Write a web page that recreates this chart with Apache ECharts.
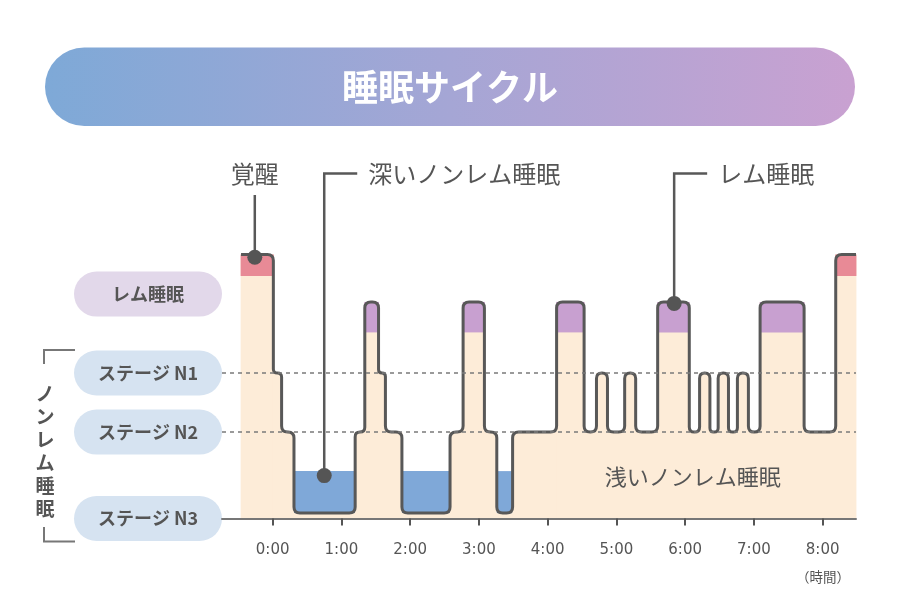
<!DOCTYPE html>
<html>
<head>
<meta charset="utf-8">
<script src="https://cdn.jsdelivr.net/npm/echarts@6/dist/echarts.min.js"></script>
<style>
html,body{margin:0;padding:0;background:#ffffff;}
#chart{width:900px;height:600px;}
</style>
</head>
<body>
<div id="chart"></div>
<script>
// ---------- data ----------
const xTickValues = [0, 1, 2, 3, 4, 5, 6, 7, 8];
const xTickLabels = ['0:00', '1:00', '2:00', '3:00', '4:00', '5:00', '6:00', '7:00', '8:00'];

// stages and their value on the vertical scale
const stageKeys   = ['W', 'REM', 'N1', 'N2', 'N3'];
const stageValues = [88, 72.2, 48.5, 28.8, 1.8];

// y-axis labels (pills)
const yLabelValues = [74.8, 48.5, 28.8, 0];
const yLabelTexts  = ['レム睡眠', 'ステージ N1', 'ステージ N2', 'ステージ N3'];
const yLabelKinds  = ['rem', 'nrem', 'nrem', 'nrem'];

// hypnogram: stage of each segment and the hour at which it ends
const recordStart = -0.46;
const segStage = ['W','N1','N2','N3','N2','REM','N1','N2','N3','N2','REM','N2','N3','N2','REM','N2','N1','N2','N1','N2','REM','N2','N1','N2','N1','N2','N1','N2','REM','N2','W'];
const segEnd   = [0.01,0.13,0.31,1.20,1.34,1.54,1.64,1.88,2.58,2.77,3.08,3.26,3.49,4.13,4.53,4.71,4.87,5.12,5.28,5.60,6.06,6.21,6.36,6.48,6.63,6.76,6.92,7.09,7.73,8.19,8.485];

// callouts
const calloutTime  = [-0.26, 0.75, 5.84];
const calloutValue = [87.1, 14.3, 71.7];
const calloutText  = ['覚醒', '深いノンレム睡眠', 'レム睡眠'];

// region label
const regionText  = ['浅いノンレム睡眠'];
const regionTime  = [6.11];
const regionValue = [13.8];

const xMin = -0.737, xMax = 8.485;

// ---------- styles ----------
const FONT = '"Noto Sans CJK JP", "Noto Sans", sans-serif';
const C_TEXT = '#555555';
const C_LINE = '#585858';
const C_BEIGE = '#fdecd8';
const C_PINK = '#e88a96';
const C_PURPLE = '#c8a0d0';
const C_BLUE = '#7fa8d8';

function levelOf(stage) { return stageValues[stageKeys.indexOf(stage)]; }

const segData = segStage.map((s, i) => [i === 0 ? recordStart : segEnd[i - 1], segEnd[i], levelOf(s)]);

function roundedPath(pts, R) {
  let d = 'M' + pts[0][0] + ' ' + pts[0][1];
  for (let i = 1; i < pts.length - 1; i++) {
    const p = pts[i - 1], c = pts[i], n = pts[i + 1];
    const d1 = Math.hypot(c[0] - p[0], c[1] - p[1]);
    const d2 = Math.hypot(n[0] - c[0], n[1] - c[1]);
    if (d1 < 0.01 || d2 < 0.01) { d += ' L' + c[0] + ' ' + c[1]; continue; }
    const r = Math.min(R, d1 / 2, d2 / 2);
    const a = [c[0] + (p[0] - c[0]) / d1 * r, c[1] + (p[1] - c[1]) / d1 * r];
    const b = [c[0] + (n[0] - c[0]) / d2 * r, c[1] + (n[1] - c[1]) / d2 * r];
    d += ' L' + a[0] + ' ' + a[1] + ' Q' + c[0] + ' ' + c[1] + ' ' + b[0] + ' ' + b[1];
  }
  const l = pts[pts.length - 1];
  d += ' L' + l[0] + ' ' + l[1];
  return d;
}

const chart = echarts.init(document.getElementById('chart'), null, { renderer: 'canvas' });

const pillBase = {
  width: 148, height: 45, lineHeight: 45, borderRadius: 22.5,
  align: 'center', verticalAlign: 'middle',
  color: C_TEXT, fontSize: 18, fontWeight: 'bold', fontFamily: FONT
};

const option = {
  animation: false,
  backgroundColor: '#ffffff',
  grid: { left: 222, right: 44, top: 218.5, bottom: 81.5, containLabel: false },
  xAxis: {
    type: 'value', min: xMin, max: xMax, z: 5,
    axisLine: { show: true, lineStyle: { color: '#777777', width: 2 } },
    axisTick: { show: true, customValues: xTickValues, length: 7, lineStyle: { color: '#555555', width: 2 } },
    axisLabel: {
      show: true, customValues: xTickValues, margin: 24,
      formatter: v => { const i = xTickValues.indexOf(Math.round(v)); return i >= 0 ? xTickLabels[i] : ''; },
      color: C_TEXT, fontSize: 15, fontFamily: '"DejaVu Sans", sans-serif'
    },
    splitLine: { show: false }
  },
  yAxis: {
    type: 'value', min: 0, max: 100,
    axisLine: { show: false }, axisTick: { show: false }, splitLine: { show: false },
    axisLabel: {
      show: true, customValues: yLabelValues, margin: 0,
      formatter: v => {
        let i = yLabelValues.findIndex(x => Math.abs(x - v) < 0.01);
        if (i < 0) return '';
        return '{' + yLabelKinds[i] + '|' + yLabelTexts[i] + '}';
      },
      rich: {
        rem: Object.assign({ backgroundColor: '#e2d8ea' }, pillBase),
        nrem: Object.assign({ backgroundColor: '#d6e3f1' }, pillBase)
      }
    }
  },
  graphic: [
    {
      type: 'rect', z: 10,
      shape: { x: 45, y: 47.5, width: 810, height: 78.5, r: 39.25 },
      style: {
        fill: new echarts.graphic.LinearGradient(0, 0, 1, 0, [
          { offset: 0, color: '#7ea9d7' },
          { offset: 0.5, color: '#a5a6d5' },
          { offset: 1, color: '#c9a1d1' }
        ])
      }
    },
    {
      type: 'text', z: 11, x: 450, y: 87,
      style: { text: '睡眠サイクル', fill: '#ffffff', fontSize: 36, fontWeight: 'bold', fontFamily: FONT, align: 'center', verticalAlign: 'middle' }
    },
    {
      type: 'polyline', z: 10,
      shape: { points: [[75, 350], [44, 350], [44, 364]] },
      style: { stroke: '#777777', lineWidth: 2, fill: null }
    },
    {
      type: 'polyline', z: 10,
      shape: { points: [[44, 527], [44, 541.5], [75, 541.5]] },
      style: { stroke: '#777777', lineWidth: 2, fill: null }
    },
    {
      type: 'text', z: 10, x: 45, y: 451,
      style: { text: 'ノ\nン\nレ\nム\n睡\n眠', fill: C_TEXT, fontSize: 19, lineHeight: 23, fontWeight: 'bold', fontFamily: FONT, align: 'center', verticalAlign: 'middle' }
    },
    {
      type: 'text', z: 10, x: 823, y: 577,
      style: { text: '（時間）', fill: C_TEXT, fontSize: 13.5, fontFamily: FONT, align: 'center', verticalAlign: 'middle' }
    }
  ],
  series: [
    {
      // dashed guide lines at N1 / N2
      type: 'line', z: 1, data: [], silent: true,
      markLine: {
        silent: true, symbol: 'none', animation: false,
        label: { show: false },
        lineStyle: { type: [4, 4], color: '#7a7a7a', width: 1.5 },
        data: [{ yAxis: levelOf('N1') }, { yAxis: levelOf('N2') }]
      }
    },
    {
      // fills
      type: 'custom', z: 2, silent: true,
      data: segData,
      encode: { x: [0, 1], y: 2 },
      renderItem: (params, api) => {
        const s = api.value(0), e = api.value(1), lv = api.value(2);
        const st = segStage[params.dataIndex];
        const p0 = api.coord([s, lv]);
        const p1 = api.coord([e, 0]);
        const x = p0[0] - 0.4, w = p1[0] - p0[0] + 0.8;
        const kids = [{ type: 'rect', shape: { x: x, y: p0[1], width: w, height: p1[1] - p0[1] }, style: { fill: C_BEIGE } }];
        if (st === 'W') kids.push({ type: 'rect', shape: { x: x, y: p0[1], width: w, height: 21.5 }, style: { fill: C_PINK } });
        if (st === 'REM') kids.push({ type: 'rect', shape: { x: x, y: p0[1], width: w, height: 30.5 }, style: { fill: C_PURPLE } });
        if (st === 'N3') kids.push({ type: 'rect', shape: { x: p0[0], y: p0[1] - 42, width: p1[0] - p0[0], height: 42 }, style: { fill: C_BLUE } });
        return { type: 'group', children: kids };
      }
    },
    {
      // outline
      type: 'custom', z: 3, silent: true,
      data: [[0, 0]],
      renderItem: (params, api) => {
        const pts = [api.coord([recordStart, levelOf(segStage[0])])];
        for (let i = 0; i < segStage.length; i++) {
          pts.push(api.coord([segEnd[i], levelOf(segStage[i])]));
          if (i < segStage.length - 1) pts.push(api.coord([segEnd[i], levelOf(segStage[i + 1])]));
        }
        return {
          type: 'path',
          shape: { pathData: roundedPath(pts, 6) },
          style: { stroke: C_LINE, lineWidth: 3, fill: null }
        };
      }
    },
    {
      // callouts
      type: 'custom', z: 4, silent: true,
      data: calloutTime.map((t, i) => [t, calloutValue[i]]),
      renderItem: (params, api) => {
        const i = params.dataIndex;
        const p = api.coord([api.value(0), api.value(1)]);
        const topY = 173.5;
        const kids = [];
        const tstyle = { fill: C_TEXT, fontSize: 24, fontFamily: FONT, verticalAlign: 'middle' };
        if (i === 0) {
          kids.push({ type: 'line', shape: { x1: p[0], y1: 195, x2: p[0], y2: p[1] }, style: { stroke: C_LINE, lineWidth: 2.5 } });
          kids.push({ type: 'text', style: Object.assign({ text: calloutText[i], x: p[0], y: topY, align: 'center' }, tstyle) });
        } else {
          kids.push({ type: 'polyline', shape: { points: [[p[0], p[1]], [p[0], topY], [p[0] + 33, topY]] }, style: { stroke: C_LINE, lineWidth: 2.5, fill: null } });
          kids.push({ type: 'text', style: Object.assign({ text: calloutText[i], x: p[0] + 44, y: topY, align: 'left' }, tstyle) });
        }
        kids.push({ type: 'circle', shape: { cx: p[0], cy: p[1], r: 7.5 }, style: { fill: '#555555' } });
        return { type: 'group', children: kids };
      }
    },
    {
      // region label
      type: 'custom', z: 4, silent: true,
      data: regionTime.map((t, i) => [t, regionValue[i]]),
      renderItem: (params, api) => {
        const p = api.coord([api.value(0), api.value(1)]);
        return { type: 'text', style: { text: regionText[params.dataIndex], x: p[0], y: p[1], fill: C_TEXT, fontSize: 22, fontFamily: FONT, align: 'center', verticalAlign: 'middle' } };
      }
    }
  ]
};

chart.setOption(option);
</script>
</body>
</html>
